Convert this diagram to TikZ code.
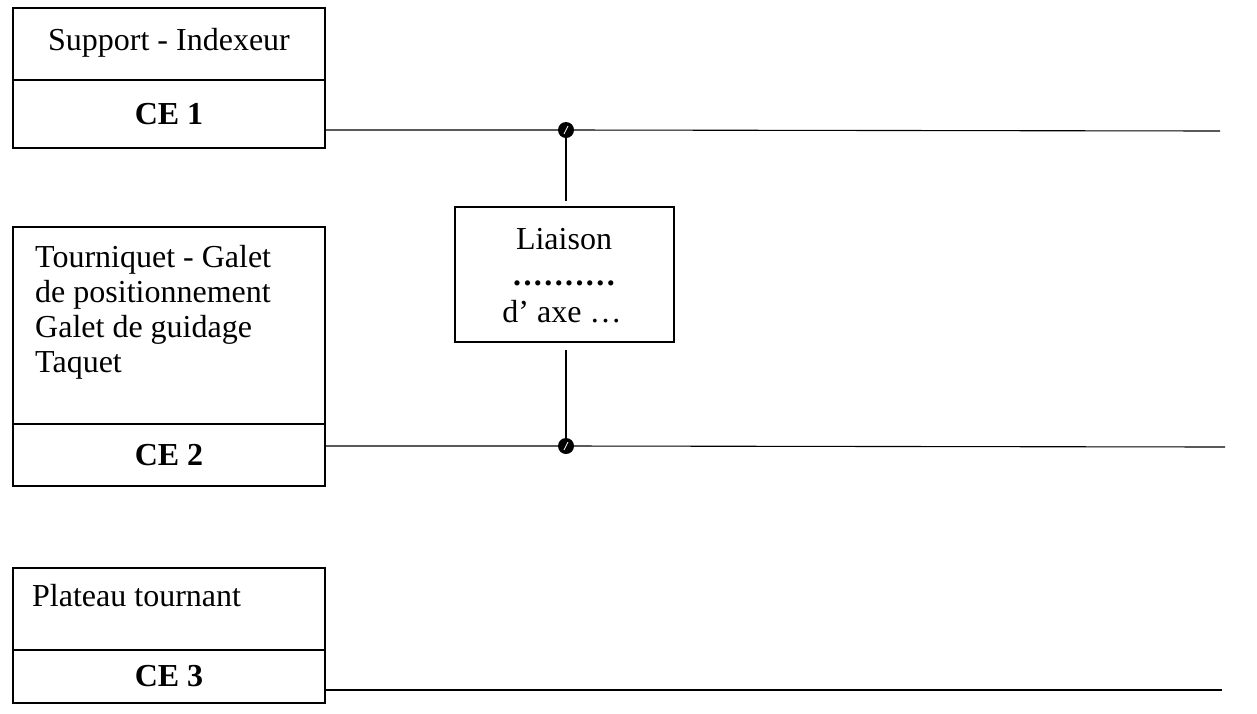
\documentclass[tikz,border=0pt]{standalone}
\usepackage{fontspec}
\setmainfont{Liberation Serif}
\begin{document}
\begin{tikzpicture}[x=1pt,y=-1pt,
  every node/.style={font=\fontsize{32}{35}\selectfont},
  cell/.style={draw, line width=1.1pt, minimum width=312pt, inner sep=0pt},
  cetext/.style={font=\fontsize{32}{35}\selectfont\bfseries},
  txt/.style={inner sep=0pt},
  wire/.style={line width=1.1pt},
  joint/.style={circle, fill=black, inner sep=0pt, minimum size=16pt,
    path picture={\draw[white, line width=0.7pt] ([shift={(-2pt,-4pt)}]path picture bounding box.center) -- ([shift={(2pt,4pt)}]path picture bounding box.center);}}
]
\useasboundingbox (0,0) rectangle (1257,713);
% Box 1
\node[cell, minimum height=72pt] (b1) at (169,44) {};
\node[txt, anchor=base] (t1) at (169,50) {Support - Indexeur};
\node[cell, minimum height=68pt, cetext] (ce1) at (169,114) {CE 1};
% Box 2
\node[cell, minimum height=197pt] (b2) at (169,325.5) {};
\node[txt, anchor=base west] (t2a) at (35,267) {Tourniquet - Galet};
\node[txt, anchor=base west] (t2b) at (35,302) {de positionnement};
\node[txt, anchor=base west] (t2c) at (35,337) {Galet de guidage};
\node[txt, anchor=base west] (t2d) at (35,372) {Taquet};
\node[cell, minimum height=62pt, cetext] (ce2) at (169,455) {CE 2};
% Box 3
\node[cell, minimum height=82pt] (b3) at (169,609) {};
\node[txt, anchor=base west] (t3) at (32,606) {Plateau tournant};
\node[cell, minimum height=53pt, cetext] (ce3) at (169,676.5) {CE 3};
% Liaison
\node[draw, line width=1.1pt, minimum width=219pt, minimum height=135pt, inner sep=0pt] (li) at (564.5,274.5) {};
\node[txt, anchor=base] (la) at (564,249) {Liaison};
\node[txt, anchor=base] (lb) at (564,285) {\bfseries\hbox to 104pt{\leaders\hbox to 10.4pt{\hss.\hss}\hfill}};
\node[txt, anchor=base] (lc) at (562,322) {d’ axe …};
% joints and ends
\node[joint] (j1) at (566,130) {};
\node[joint] (j2) at (566,446) {};
\coordinate (e1) at (1220,131);
\coordinate (e2) at (1225,447);
\coordinate (e3) at (1222,690);
% wires
\draw[wire] (ce1.east |- j1) -- (j1) -- (e1);
\draw[wire] (ce2.east |- j2) -- (j2) -- (e2);
\draw[wire] (ce3.east |- e3) -- (e3);
\draw[wire, shorten >=5pt] (j1) -- (li.north -| j1);
\draw[wire, shorten >=7pt] (j2) -- (li.south -| j2);
\end{tikzpicture}
\end{document}
